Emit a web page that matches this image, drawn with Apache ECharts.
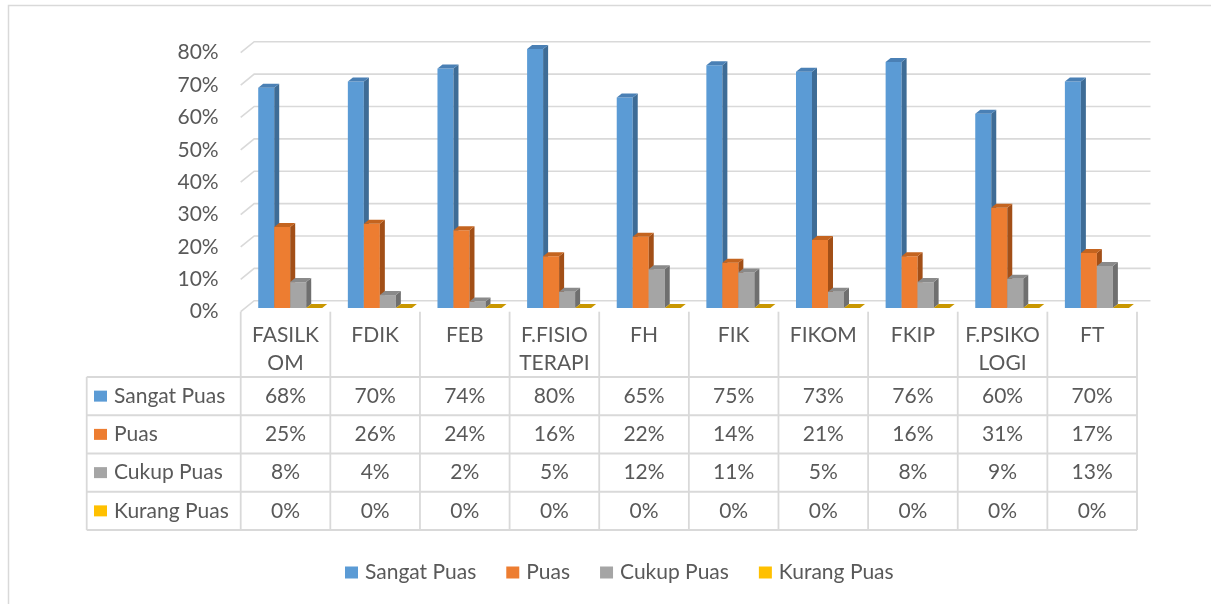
<!DOCTYPE html>
<html>
<head>
<meta charset="utf-8">
<script src="https://cdn.jsdelivr.net/npm/echarts@6/dist/echarts.min.js"></script>
<style>html,body{margin:0;padding:0;background:#fff}#c{width:1211px;height:604px}</style>
</head>
<body>
<div id="c"></div>
<script>
const categories = ['FASILKOM','FDIK','FEB','F.FISIOTERAPI','FH','FIK','FIKOM','FKIP','F.PSIKOLOGI','FT'];
const tickLabels = ['FASILK\nOM','FDIK','FEB','F.FISIO\nTERAPI','FH','FIK','FIKOM','FKIP','F.PSIKO\nLOGI','FT'];
const seriesNames = ['Sangat Puas','Puas','Cukup Puas','Kurang Puas'];
const sangatPuas = [0.68,0.70,0.74,0.80,0.65,0.75,0.73,0.76,0.60,0.70];
const puas       = [0.25,0.26,0.24,0.16,0.22,0.14,0.21,0.16,0.31,0.17];
const cukupPuas  = [0.08,0.04,0.02,0.05,0.12,0.11,0.05,0.08,0.09,0.13];
const kurangPuas = [0,0,0,0,0,0,0,0,0,0];
const yTicks = [0,0.1,0.2,0.3,0.4,0.5,0.6,0.7,0.8];

const seriesData = [sangatPuas, puas, cukupPuas, kurangPuas];
const colors = ['#5B9BD5','#ED7D31','#A5A5A5','#FFC000'];
const topColors = ['#4A80B5','#C4641F','#8A8A8A','#C99700'];
const sideColors = ['#3E6C96','#A24F17','#6F6F6F','#A67D00'];
const TXT = '#595959';
const FONT = 'Lato';
const FS = 21;
const LINE = '#d9d9d9';

const BAR_W = 16, DEPTH_X = 5, DEPTH_Y = 4;   // bar 3D
const PLANE_X = 4.7, PLANE_Y = -3.7;         // bar plane offset from front
const WALL_X = 13.5, WALL_Y = -11;           // back wall offset from front

const chart = echarts.init(document.getElementById('c'), null, {renderer:'canvas'});

function barRender(k) {
  return function (params, api) {
    const i = api.value(0), v = api.value(1);
    const p = api.coord([i, v]);
    const b = api.coord([i, 0]);
    const x = p[0] - 2 * BAR_W + k * BAR_W + PLANE_X;
    const yT = p[1] + PLANE_Y, yB = b[1] + PLANE_Y;
    const children = [];
    if (yB - yT > 0.01) {
      children.push({type:'rect', shape:{x:x, y:yT, width:BAR_W, height:yB - yT}, style:{fill:colors[k]}});
      children.push({type:'polygon', shape:{points:[[x+BAR_W,yT],[x+BAR_W+DEPTH_X,yT-DEPTH_Y],[x+BAR_W+DEPTH_X,yB-DEPTH_Y],[x+BAR_W,yB]]}, style:{fill:sideColors[k]}});
    }
    children.push({type:'polygon', shape:{points:[[x,yT],[x+DEPTH_X,yT-DEPTH_Y],[x+BAR_W+DEPTH_X,yT-DEPTH_Y],[x+BAR_W,yT]]}, style:{fill:topColors[k]}});
    return {type:'group', children:children};
  };
}

function gridRender(params, api) {
  const v = api.value(1);
  const bw = api.size([1, 0])[0];
  const pL = api.coord([0, v]);
  const pR = api.coord([categories.length - 1, v]);
  const xL = pL[0] - bw / 2, xR = pR[0] + bw / 2, y = pL[1];
  return {type:'polyline', shape:{points:[[xL,y],[xL+WALL_X,y+WALL_Y],[xR+WALL_X,y+WALL_Y]]},
    style:{stroke:LINE, lineWidth:1.6, fill:null}};
}

const series = [{
  type:'custom', name:'grid', renderItem:gridRender, silent:true, z:1,
  data: yTicks.map(v => [0, v]), encode:{x:0, y:1}
}];
seriesNames.forEach((n, k) => {
  series.push({
    type:'custom', name:n, renderItem:barRender(k), z:2 + k,
    itemStyle:{color:colors[k]},
    data: seriesData[k].map((v, i) => [i, v]), encode:{x:0, y:1}
  });
});

chart.setOption({
  animation:false,
  backgroundColor:'#fff',
  grid:{left:240.7, top:52.7, width:896.3, height:259},
  xAxis:{type:'category', data:categories, axisLine:{show:false}, axisTick:{show:false},
    splitLine:{show:false},
    axisLabel:{interval:0, margin:10, color:TXT, fontFamily:FONT, fontSize:FS, lineHeight:28,
      formatter:(val, idx) => tickLabels[idx]}},
  yAxis:{type:'value', min:0, max:0.8, interval:0.1, axisLine:{show:false}, axisTick:{show:false},
    splitLine:{show:false},
    axisLabel:{margin:22, color:TXT, fontFamily:FONT, fontSize:FS,
      formatter:v => Math.round(v * 100) + '%'}},
  legend:{data:seriesNames, left:340, top:557, icon:'rect', itemWidth:13, itemHeight:12, itemGap:30,
    textStyle:{color:TXT, fontFamily:FONT, fontSize:FS, padding:[0,0,0,2]}, selectedMode:false},
  series:series
});

// data table + frame
(function () {
  const bw = chart.convertToPixel({xAxisIndex:0}, 1) - chart.convertToPixel({xAxisIndex:0}, 0);
  const x0 = chart.convertToPixel({xAxisIndex:0}, 0) - bw / 2;
  const xEnd = x0 + bw * categories.length;
  const yFloor = chart.convertToPixel({yAxisIndex:0}, 0);
  const tLeft = 86.7;
  const rowTop = 377, rowH = 38.25;
  const nRows = seriesNames.length;
  const yBottom = rowTop + rowH * nRows;
  const els = [];
  const ls = {stroke:LINE, lineWidth:1.8};
  for (let c = 0; c <= categories.length; c++) {
    const x = x0 + c * bw;
    els.push({type:'line', shape:{x1:x, y1:yFloor, x2:x, y2:yBottom}, style:ls, silent:true});
  }
  els.push({type:'line', shape:{x1:tLeft, y1:rowTop, x2:tLeft, y2:yBottom}, style:ls, silent:true});
  for (let r = 0; r <= nRows; r++) {
    const y = rowTop + r * rowH;
    els.push({type:'line', shape:{x1:tLeft, y1:y, x2:xEnd, y2:y}, style:ls, silent:true});
  }
  seriesNames.forEach((n, r) => {
    const yc = rowTop + rowH * (r + 0.5);
    els.push({type:'rect', shape:{x:94, y:yc - 5.5, width:13, height:11}, style:{fill:colors[r]}, silent:true});
    els.push({type:'text', x:114, y:yc, style:{text:n, fill:TXT, font:FS + 'px ' + FONT, verticalAlign:'middle', align:'left'}, silent:true});
    seriesData[r].forEach((v, c) => {
      els.push({type:'text', x:x0 + bw * (c + 0.5), y:yc,
        style:{text:Math.round(v * 100) + '%', fill:TXT, font:FS + 'px ' + FONT, verticalAlign:'middle', align:'center'}, silent:true});
    });
  });
  // chart outer frame (left + top visible)
  els.push({type:'polyline', shape:{points:[[8.5,604],[8.5,5.5],[1211,5.5]]}, style:{stroke:LINE, lineWidth:1.5, fill:null}, silent:true});
  chart.setOption({graphic:{elements:els}});
})();
</script>
</body>
</html>
